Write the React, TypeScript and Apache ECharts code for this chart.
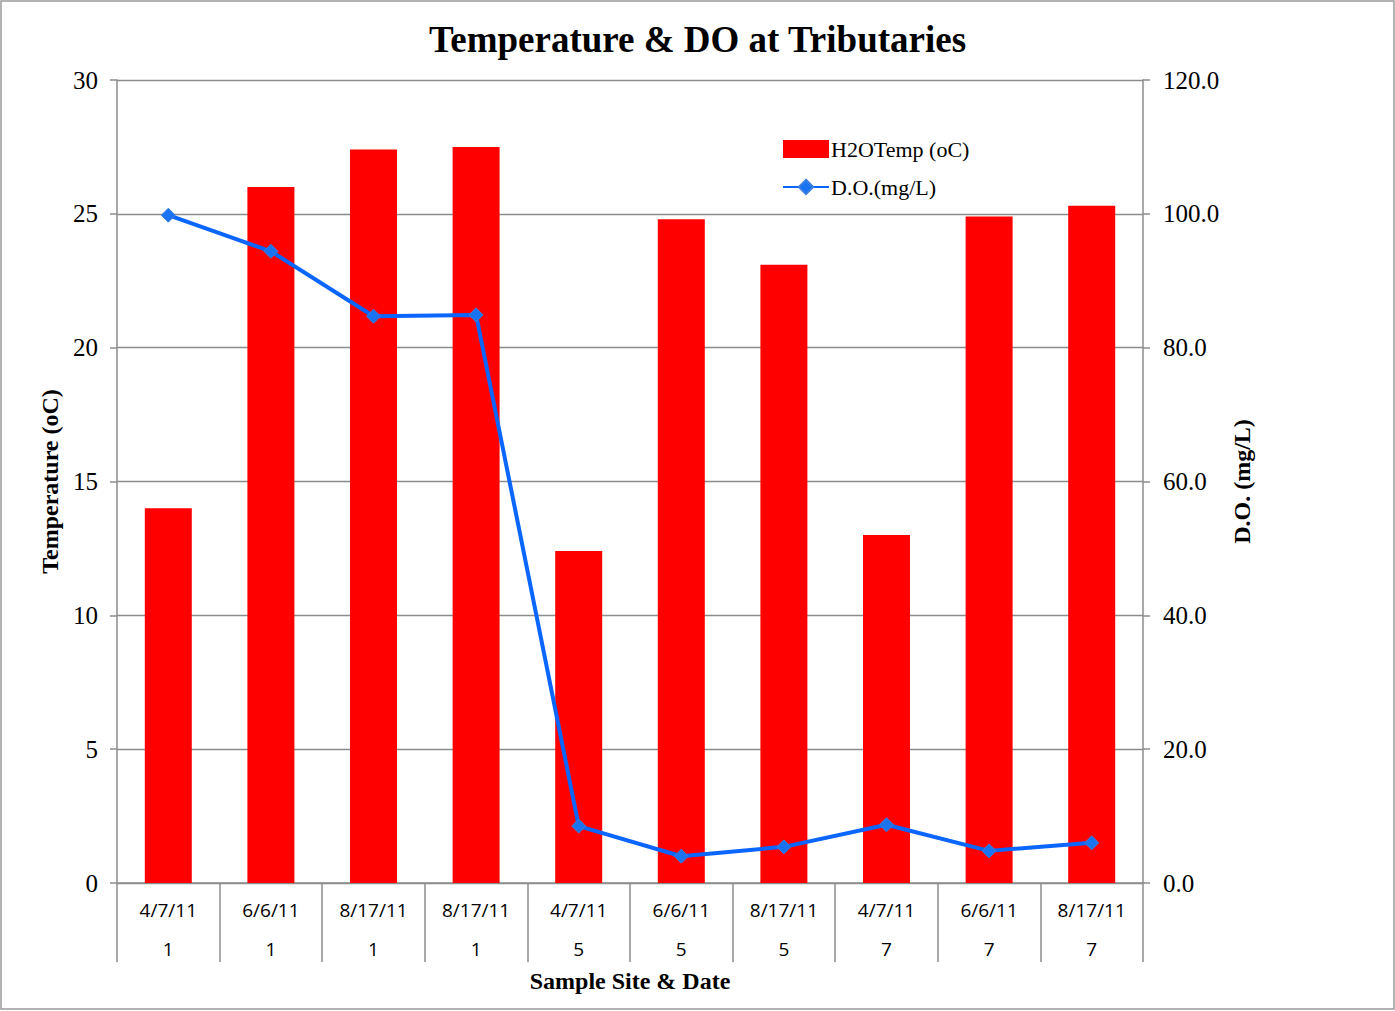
import React, { useEffect, useRef } from "react";
import * as echarts from "echarts";

const dates = ["4/7/11", "6/6/11", "8/17/11", "8/17/11", "4/7/11", "6/6/11", "8/17/11", "4/7/11", "6/6/11", "8/17/11"];
const sites = ["1", "1", "1", "1", "5", "5", "5", "7", "7", "7"];
const tempValues = [14.0, 26.0, 27.4, 27.5, 12.4, 24.8, 23.1, 13.0, 24.9, 25.3];
const doValues = [99.8, 94.4, 84.7, 84.9, 8.5, 4.0, 5.4, 8.7, 4.8, 6.0];

const serif = "'Liberation Serif', 'Times New Roman', serif";
const sans = "'Open Sans', 'Liberation Sans', sans-serif";
const gray = "#8c8c8c";

export default function App() {
  const ref = useRef<HTMLDivElement>(null);
  useEffect(() => {
    if (!ref.current) return;
    const chart = echarts.init(ref.current, null, { renderer: "svg" });
    const categories = dates.map((d, i) => d + "|" + sites[i]);
    chart.setOption({
      animation: false,
      backgroundColor: "#ffffff",
      title: {
        text: "Temperature & DO at Tributaries",
        left: "center",
        top: 16,
        textStyle: { fontFamily: serif, fontWeight: "bold", fontSize: 37, color: "#000" },
      },
      legend: {
        orient: "vertical",
        left: 777,
        top: 133,
        itemWidth: 46,
        itemHeight: 18,
        itemGap: 16,
        textStyle: { fontFamily: serif, fontSize: 22, color: "#000", padding: [0, 0, 0, -3] },
        data: [
          { name: "H2OTemp (oC)", icon: "rect" },
          { name: "D.O.(mg/L)" },
        ],
      },
      grid: { left: 117, right: 252, top: 80, bottom: 128, containLabel: false },
      graphic: [
        {
          type: "rect",
          shape: { x: 1, y: 1, width: 1393, height: 1008 },
          style: { fill: "none", stroke: "#9a9a9a", lineWidth: 1.5 },
          silent: true,
        },
      ],
      xAxis: {
        type: "category",
        data: categories,
        boundaryGap: true,
        name: "Sample Site & Date",
        nameLocation: "middle",
        nameGap: 86,
        nameTextStyle: { fontFamily: serif, fontWeight: "bold", fontSize: 24, color: "#000" },
        axisLine: { lineStyle: { color: gray, width: 1.5 } },
        axisTick: { show: true, length: 79, interval: 0, lineStyle: { color: gray, width: 1.5 } },
        axisLabel: {
          interval: 0,
          margin: 7,
          formatter: (v: string) => {
            const [d, s] = v.split("|");
            return "{d|" + d + "}\n{s|" + s + "}";
          },
          rich: {
            d: { fontFamily: sans, fontSize: 19, color: "#000", lineHeight: 39, align: "center" },
            s: { fontFamily: sans, fontSize: 19, color: "#000", lineHeight: 39, align: "center" },
          },
        },
      },
      yAxis: [
        {
          type: "value",
          min: 0,
          max: 30,
          interval: 5,
          name: "Temperature (oC)",
          nameLocation: "middle",
          nameGap: 54,
          nameRotate: 90,
          nameTextStyle: { fontFamily: serif, fontWeight: "bold", fontSize: 24, color: "#000" },
          axisLine: { show: true, lineStyle: { color: gray, width: 1.5 } },
          axisTick: { show: true, length: 7, lineStyle: { color: gray, width: 1.5 } },
          axisLabel: { fontFamily: serif, fontSize: 25, color: "#000", margin: 19 },
          splitLine: { show: true, lineStyle: { color: gray, width: 1.3 } },
        },
        {
          type: "value",
          min: 0,
          max: 120,
          interval: 20,
          position: "right",
          name: "D.O. (mg/L)",
          nameLocation: "middle",
          nameGap: 83,
          nameRotate: 90,
          nameTextStyle: { fontFamily: serif, fontWeight: "bold", fontSize: 24, color: "#000" },
          axisLine: { show: true, lineStyle: { color: gray, width: 1.5 } },
          axisTick: { show: true, length: 7, lineStyle: { color: gray, width: 1.5 } },
          axisLabel: {
            fontFamily: serif,
            fontSize: 25,
            color: "#000",
            margin: 20,
            formatter: (v: number) => v.toFixed(1),
          },
          splitLine: { show: false },
        },
      ],
      series: [
        {
          name: "H2OTemp (oC)",
          type: "bar",
          yAxisIndex: 0,
          data: tempValues,
          barWidth: 47,
          itemStyle: { color: "#ff0000" },
        },
        {
          name: "D.O.(mg/L)",
          type: "line",
          yAxisIndex: 1,
          data: doValues,
          symbol: "diamond",
          symbolSize: 14,
          lineStyle: { color: "#0a66ff", width: 4 },
          itemStyle: { color: "#1a73f0", borderColor: "#3d7fe0", borderWidth: 1 },
        },
      ],
    });
    return () => chart.dispose();
  }, []);
  return (
    <div
      ref={ref}
      style={{ position: "absolute", left: 0, top: 0, width: 1395, height: 1011 }}
    />
  );
}
